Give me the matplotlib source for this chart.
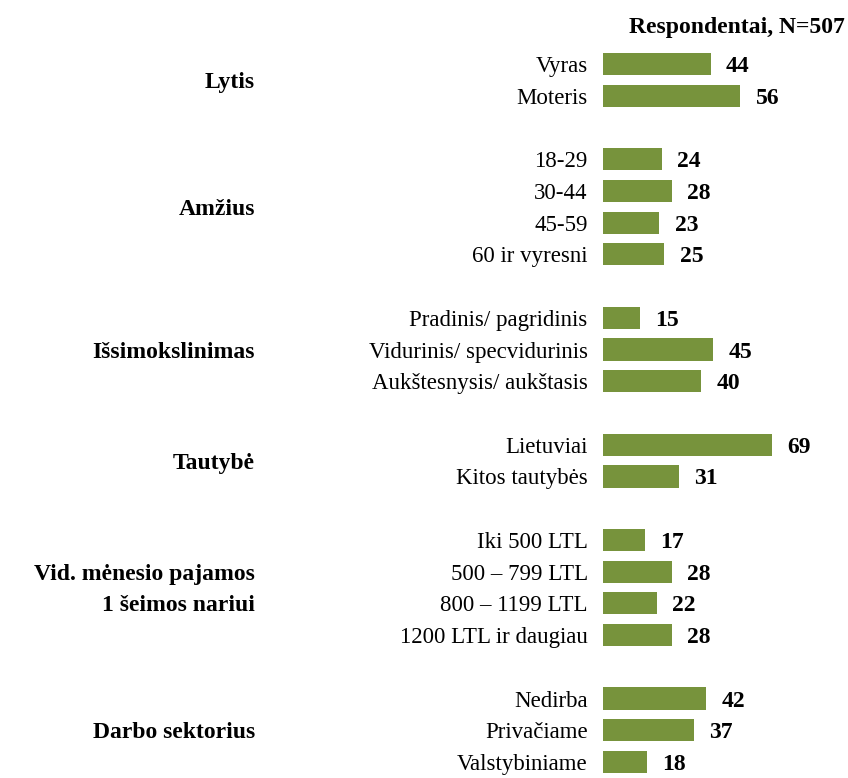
import matplotlib
matplotlib.use('Agg')
import matplotlib.pyplot as plt
import matplotlib.transforms as mtransforms

# rows (with blank rows between groups)
labels = ['Vyras', 'Moteris', '',
          '18-29', '30-44', '45-59', '60 ir vyresni', '',
          'Pradinis/ pagridinis', 'Vidurinis/ specvidurinis', 'Aukštesnysis/ aukštasis', '',
          'Lietuviai', 'Kitos tautybės', '',
          'Iki 500 LTL', '500 – 799 LTL', '800 – 1199 LTL', '1200 LTL ir daugiau', '',
          'Nedirba', 'Privačiame', 'Valstybiniame']
values = [44, 56, None,
          24, 28, 23, 25, None,
          15, 45, 40, None,
          69, 31, None,
          17, 28, 22, 28, None,
          42, 37, 18]

groups = ['Lytis', 'Amžius', 'Išsimokslinimas', 'Tautybė',
          'Vid. mėnesio pajamos\n1 šeimos nariui', 'Darbo sektorius']
group_rows = [(0, 1), (3, 6), (8, 10), (12, 13), (15, 18), (20, 22)]

title = 'Respondentai, N=507'
green = '#77933C'

plt.rcParams['font.family'] = ['Liberation Serif', 'DejaVu Serif']

fig = plt.figure(figsize=(8.48, 7.78), dpi=100)
ax = fig.add_axes([603 / 848, 0, 245 / 848, 1])

rows = [i for i, v in enumerate(values) if v is not None]
vals = [v for v in values if v is not None]
ax.barh(rows, vals, height=0.7, color=green)

for r, v in zip(rows, vals):
    ax.annotate(str(v), (v, r), xytext=(11, 0), textcoords='offset points',
                va='center_baseline', ha='left', fontsize=17, fontweight='bold')

ax.set_xlim(0, 100)
ax.set_ylim(22 + 16 / 31.73, -64 / 31.73)
ax.set_yticks(rows, [labels[r] for r in rows], fontsize=16.5)
ax.tick_params(axis='y', length=0, pad=11)
ax.set_xticks([])
for s in ax.spines.values():
    s.set_visible(False)

# group titles, one text per line, lines one row apart
trans = mtransforms.blended_transform_factory(fig.transFigure, ax.transData)
for g, (a, b) in zip(groups, group_rows):
    lines = g.split('\n')
    mid = (a + b) / 2
    for k, line in enumerate(lines):
        y = mid + k - (len(lines) - 1) / 2
        ax.text(255 / 848, y, line, transform=trans, ha='right', va='center_baseline',
                fontsize=17, fontweight='bold', clip_on=False)

fig.text(845 / 848, 1 - 25 / 778, title, ha='right', va='center_baseline',
         fontsize=17, fontweight='bold')

fig.savefig('out.png', dpi=100)
